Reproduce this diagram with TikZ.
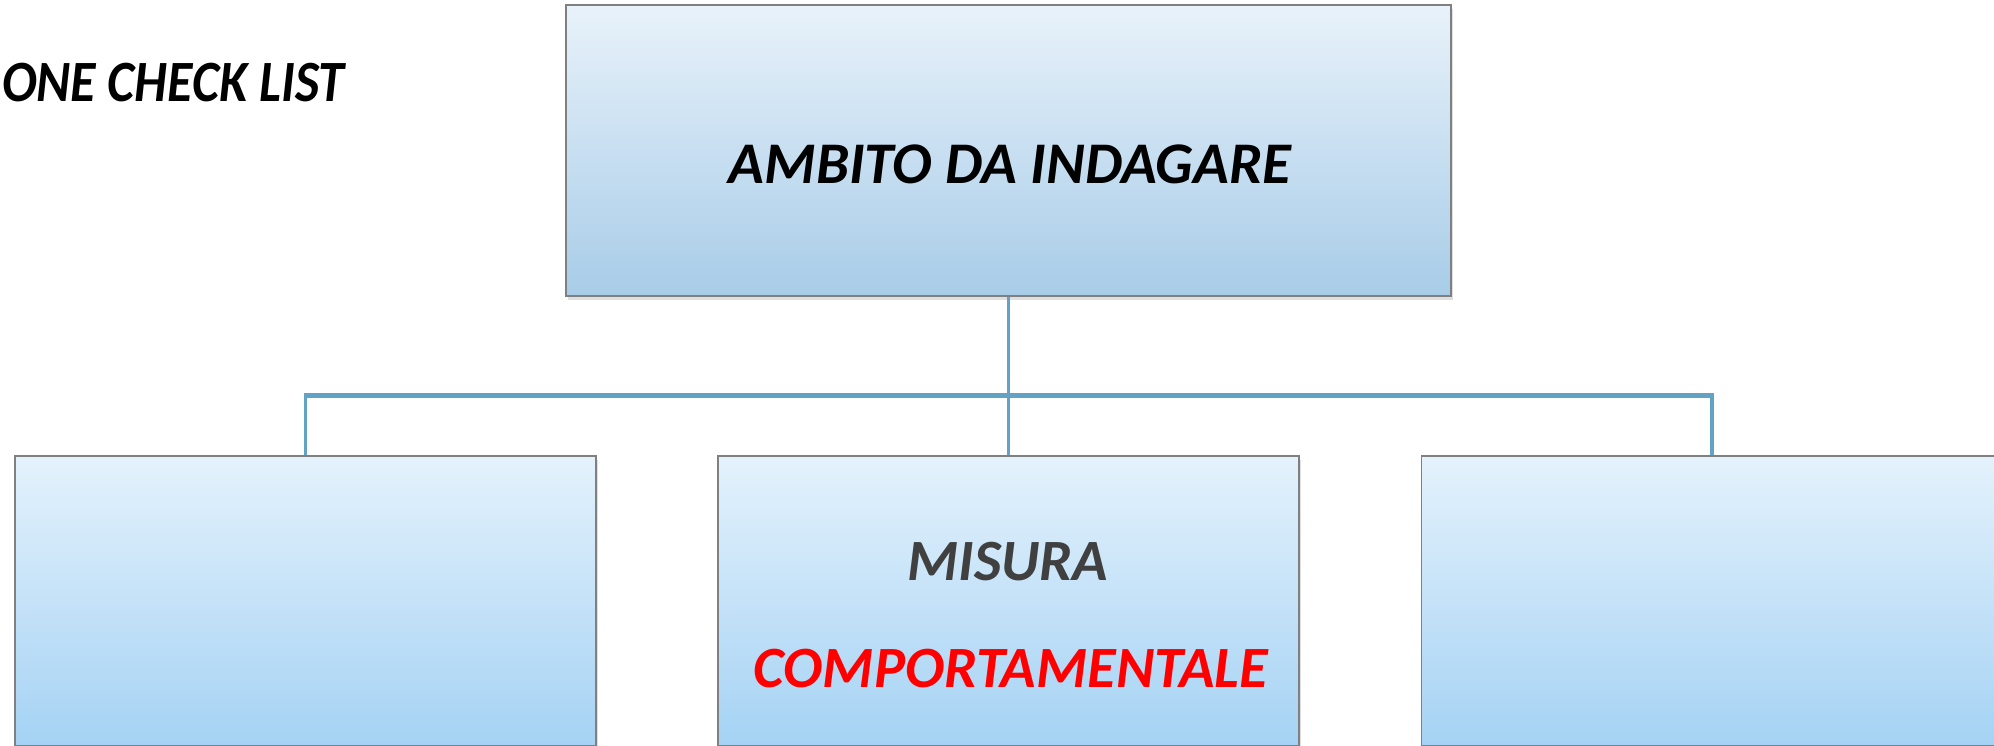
\documentclass[tikz,border=0pt]{standalone}
\usepackage{fontspec}
\usepackage{graphicx}
\setmainfont{Carlito}
\usetikzlibrary{shadows}
\definecolor{boxtop}{HTML}{E8F2FA}
\definecolor{boxbot}{HTML}{A8CCE8}
\definecolor{lboxtop}{HTML}{E4F2FC}
\definecolor{lboxbot}{HTML}{A5D2F4}
\definecolor{linec}{HTML}{62A2C4}
\definecolor{edgec}{HTML}{808080}
\definecolor{darktext}{HTML}{404040}
\definecolor{redtext}{HTML}{FF0000}
\begin{document}
\begin{tikzpicture}[x=1pt,y=-1pt,
  box/.style={draw=edgec, line width=1.2pt, inner sep=0pt,
    drop shadow={shadow xshift=2pt, shadow yshift=-4pt, opacity=0.25}},
  topbox/.style={box, top color=boxtop, bottom color=boxbot,
    minimum width=885pt, minimum height=291pt},
  lowbox/.style={box, top color=lboxtop, bottom color=lboxbot,
    minimum width=581pt, minimum height=290pt},
  conn/.style={draw=linec, line width=3.5pt},
  bus/.style={draw=linec, line width=5pt},
  bigtext/.style={font=\fontsize{59}{66}\selectfont\bfseries\itshape, inner sep=0pt},
  midtext/.style={font=\fontsize{58.5}{64}\selectfont\bfseries\itshape, inner sep=0pt}]
\useasboundingbox (0,0) rectangle (1994,745);
\clip (0,0) rectangle (1994,745);
\fill[white] (0,0) rectangle (1994,745);

\node[topbox] (top) at (1008.5,150.5) {};
\node[lowbox] (left) at (305.5,601) {};
\node[lowbox] (mid) at (1008.5,601) {};
\node[lowbox] (right) at (1712,601) {};

\coordinate (busy) at (1008.5,395);
\draw[conn] (top.south) -- (mid.north);
\draw[bus] ([xshift=-1.75pt]left.north |- busy) -- ([xshift=1.75pt]right.north |- busy);
\draw[conn] (left.north) -- (left.north |- busy);
\draw[conn] (right.north) -- (right.north |- busy);

\node[bigtext, text=black] (title) at (1010,164) {AMBITO DA INDAGARE};
\node[midtext, text=darktext] (misura) at (1008,562) {MISURA};
\node[midtext, text=redtext] (comp) at (1011,669) {COMPORTAMENTALE};
\node[midtext, text=black, anchor=west] (check) at (2,83) {\resizebox{342pt}{\height}{ONE CHECK LIST}};
\end{tikzpicture}
\end{document}
